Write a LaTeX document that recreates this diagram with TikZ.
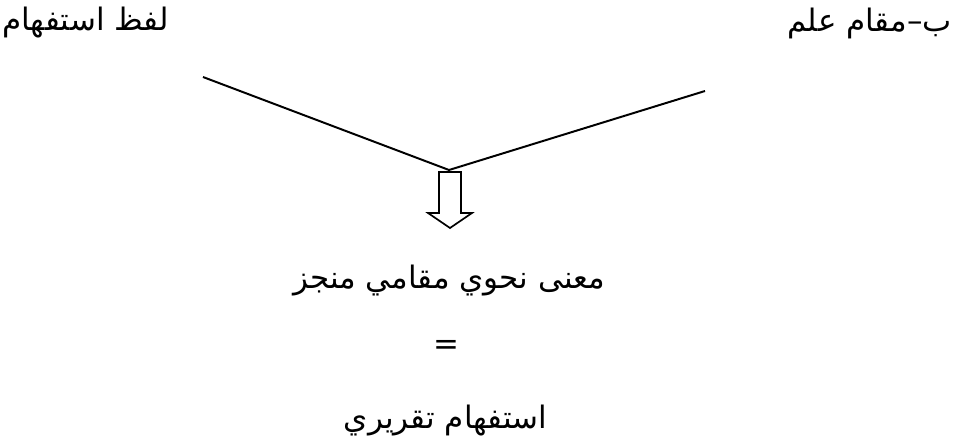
\documentclass[tikz,border=0pt]{standalone}
\usepackage{fontspec}
\newfontfamily\arabicfont[Script=Arabic]{DejaVu Sans}
\TeXXeTstate=1
\tikzset{
  ar/.style={font=\arabicfont\fontsize{22}{26}\selectfont,inner sep=0pt},
  ln/.style={draw=black,line width=1.4pt},
  blk/.style={draw=black,line width=1.2pt,fill=white,line join=miter},
}

\begin{document}
\begin{tikzpicture}
\useasboundingbox (0,0) rectangle (23.825,11.075);
% ============================= top labels
\node[ar,anchor=west] (lfz) at (0.05,10.5) {\beginR لفظ استفهام\endR};
\node[ar,anchor=east] (mqm) at (23.8,10.5) {\beginR ب–مقام علم\endR};
% ============================= the two lines meet
\coordinate (apex) at (11.225,6.825);
\coordinate (lnL) at (5.075,9.15);
\coordinate (lnR) at (17.625,8.8);
\draw[ln] (lnL) -- (apex) -- (lnR);
% hollow block arrow under the apex
\draw[blk] (10.975,6.775) -- (11.525,6.775) -- (11.525,5.75) -- (11.8,5.75)
  -- (11.25,5.375) -- (10.7,5.75) -- (10.975,5.75) -- cycle;
% ============================= result
\node[ar] (mna) at (11.225,4.05) {\beginR معنى نحوي مقامي منجز\endR};
\node[ar] (eq) at (11.15,2.4) {=};
\node[ar] (tqr) at (11.14,0.55) {\beginR استفهام تقريري\endR};
\end{tikzpicture}
\end{document}
